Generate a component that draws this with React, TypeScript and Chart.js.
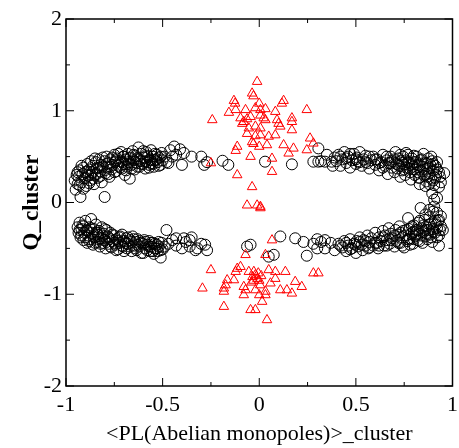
import React, { useEffect, useRef } from "react";
import { Chart, registerables } from "chart.js";

Chart.register(...registerables);

// Axis ticks
const xTicks = [-1, -0.5, 0, 0.5, 1];
const yTicks = [-2, -1, 0, 1, 2];
const xMinorTicks = [-0.75, -0.25, 0.25, 0.75];
const yMinorTicks = [-1.5, -0.5, 0.5, 1.5];

const xTitle = "<PL(Abelian monopoles)>_cluster";
const yTitle = "Q_cluster";

// Red triangles (x, y)
const triUpper: number[][] = [
  [-0.011, 1.317], [-0.037, 1.19], [-0.03, 1.16], [-0.131, 1.11], [-0.125, 1.08], [0.126, 1.11], [0.117, 1.08],
  [0, 1.08], [-0.157, 0.98], [-0.122, 1.01], [-0.071, 1.01], [-0.02, 1.03], [0.006, 1.01], [0.032, 1.02],
  [0.083, 0.99], [0.246, 1.01], [-0.243, 0.9], [-0.097, 0.92], [-0.08, 0.88], [-0.063, 0.91], [-0.088, 0.86],
  [-0.045, 0.935], [0.006, 0.95], [0.023, 0.92], [0.032, 0.9], [0.092, 0.9], [0.1, 0.86], [0.169, 0.92],
  [0.169, 0.88], [-0.054, 0.81], [-0.02, 0.83], [0.006, 0.81], [-0.063, 0.75], [-0.02, 0.725], [0.006, 0.735],
  [0.049, 0.72], [0.083, 0.735], [0.109, 0.83], [0.169, 0.79], [-0.037, 0.66], [-0.03, 0.64], [0, 0.61],
  [0.04, 0.627], [-0.114, 0.61], [-0.122, 0.565], [0.126, 0.627], [0.152, 0.536], [0.177, 0.59], [0.263, 0.7],
  [0.28, 0.645], [0.246, 0.572], [-0.045, 0.5], [0.066, 0.48], [0.066, 0.336], [-0.25, 0.43], [-0.114, 0.3],
  [-0.037, 0.17], [-0.063, -0.03], [-0.011, -0.03], [0.006, -0.045], [0.006, -0.06],
];
const triLower: number[][] = [
  [0.066, -0.41], [-0.071, -0.57], [0.032, -0.57], [-0.25, -0.735], [-0.114, -0.72], [-0.097, -0.7],
  [-0.122, -0.754], [-0.054, -0.754], [-0.028, -0.754], [-0.02, -0.79], [-0.035, -0.81], [-0.01, -0.83],
  [0, -0.85], [-0.03, -0.85], [-0.005, -0.77], [0.01, -0.8], [-0.04, -0.87], [0.005, -0.9], [0.049, -0.735],
  [0.083, -0.754], [0.135, -0.754], [0.28, -0.77], [0.306, -0.77], [-0.166, -0.845], [-0.131, -0.845],
  [-0.174, -0.9], [-0.183, -0.935], [-0.183, -0.97], [-0.294, -0.935], [-0.08, -0.918], [-0.071, -0.954],
  [-0.02, -0.954], [0.032, -0.97], [0.058, -0.88], [0.083, -0.83], [0.186, -0.863], [0.22, -0.918],
  [0.109, -0.954], [0.143, -0.954], [0.169, -0.99], [-0.08, -1.008], [0, -1.008], [0.032, -1.008],
  [0.015, -1.08], [-0.183, -1.135], [-0.045, -1.17], [-0.02, -1.17], [0.04, -1.28],
];

// Black circles (x, y)
const circUpperLeft: number[][] = [
  [-0.955, 0.24], [-0.95, 0.14], [-0.945, 0.3], [-0.94, 0.2], [-0.935, 0.28], [-0.93, 0.35], [-0.925, 0.06],
  [-0.92, 0.22], [-0.915, 0.31], [-0.91, 0.38], [-0.905, 0.26], [-0.9, 0.33], [-0.895, 0.18], [-0.89, 0.42],
  [-0.885, 0.29], [-0.88, 0.36], [-0.875, 0.24], [-0.87, 0.45], [-0.865, 0.33], [-0.86, 0.4], [-0.855, 0.2],
  [-0.85, 0.3], [-0.845, 0.44], [-0.84, 0.37], [-0.835, 0.27], [-0.83, 0.47], [-0.825, 0.34], [-0.82, 0.41],
  [-0.815, 0.22], [-0.81, 0.39], [-0.8, 0.06], [-0.8, 0.45], [-0.795, 0.32], [-0.79, 0.5], [-0.785, 0.38],
  [-0.78, 0.43], [-0.775, 0.28], [-0.77, 0.47], [-0.765, 0.36], [-0.76, 0.41], [-0.75, 0.52], [-0.745, 0.44],
  [-0.74, 0.34], [-0.735, 0.48], [-0.73, 0.4], [-0.72, 0.45], [-0.715, 0.55], [-0.71, 0.37], [-0.705, 0.5],
  [-0.7, 0.42], [-0.695, 0.3], [-0.69, 0.47], [-0.685, 0.39], [-0.68, 0.53], [-0.675, 0.44], [-0.67, 0.26],
  [-0.665, 0.49], [-0.66, 0.41], [-0.655, 0.56], [-0.65, 0.46], [-0.645, 0.36], [-0.64, 0.51], [-0.635, 0.43],
  [-0.63, 0.48], [-0.625, 0.6], [-0.62, 0.39], [-0.615, 0.45], [-0.61, 0.53], [-0.6, 0.42], [-0.595, 0.49],
  [-0.59, 0.37], [-0.585, 0.55], [-0.58, 0.44], [-0.575, 0.5], [-0.57, 0.41], [-0.565, 0.47], [-0.56, 0.57],
  [-0.555, 0.43], [-0.55, 0.5], [-0.545, 0.39], [-0.54, 0.46], [-0.53, 0.52], [-0.525, 0.44], [-0.52, 0.49],
  [-0.51, 0.41], [-0.505, 0.54], [-0.5, 0.46], [-0.49, 0.5], [-0.47, 0.43], [-0.46, 0.57], [-0.44, 0.61],
  [-0.43, 0.52], [-0.41, 0.58], [-0.4, 0.41], [-0.39, 0.54], [-0.35, 0.5], [-0.3, 0.5], [-0.285, 0.41],
  [-0.27, 0.44], [-0.19, 0.455], [-0.16, 0.41],
  [-0.94, 0.33], [-0.93, 0.19], [-0.92, 0.4], [-0.91, 0.15], [-0.9, 0.27], [-0.89, 0.34], [-0.88, 0.21],
  [-0.87, 0.3], [-0.86, 0.26], [-0.85, 0.48], [-0.84, 0.31], [-0.83, 0.38], [-0.82, 0.29], [-0.81, 0.49],
  [-0.8, 0.35], [-0.79, 0.42], [-0.78, 0.31], [-0.77, 0.39], [-0.76, 0.49], [-0.75, 0.33], [-0.74, 0.46],
  [-0.73, 0.53], [-0.72, 0.38], [-0.71, 0.44], [-0.7, 0.5], [-0.69, 0.35], [-0.68, 0.42], [-0.67, 0.48],
  [-0.66, 0.37], [-0.65, 0.52], [-0.64, 0.44], [-0.63, 0.39], [-0.62, 0.47], [-0.61, 0.42], [-0.6, 0.56],
  [-0.59, 0.45], [-0.58, 0.51], [-0.57, 0.38], [-0.56, 0.46], [-0.55, 0.42], [-0.54, 0.53], [-0.53, 0.47],
  [-0.52, 0.4], [-0.51, 0.5], [-0.48, 0.44], [-0.45, 0.5],
];
const circLowerLeft: number[][] = [
  [-0.94, -0.27], [-0.935, -0.33], [-0.93, -0.22], [-0.925, -0.38], [-0.92, -0.29], [-0.915, -0.25],
  [-0.91, -0.41], [-0.905, -0.33], [-0.9, -0.2], [-0.895, -0.3], [-0.89, -0.44], [-0.885, -0.36],
  [-0.88, -0.27], [-0.875, -0.4], [-0.87, -0.18], [-0.865, -0.33], [-0.86, -0.46], [-0.855, -0.29],
  [-0.85, -0.38], [-0.845, -0.24], [-0.84, -0.43], [-0.835, -0.35], [-0.83, -0.31], [-0.825, -0.48],
  [-0.82, -0.39], [-0.815, -0.27], [-0.81, -0.44], [-0.805, -0.34], [-0.8, -0.41], [-0.795, -0.5],
  [-0.79, -0.3], [-0.785, -0.37], [-0.78, -0.45], [-0.775, -0.4], [-0.77, -0.33], [-0.765, -0.49],
  [-0.76, -0.42], [-0.75, -0.36], [-0.745, -0.46], [-0.74, -0.4], [-0.73, -0.51], [-0.725, -0.38],
  [-0.72, -0.44], [-0.71, -0.35], [-0.705, -0.48], [-0.7, -0.42], [-0.69, -0.39], [-0.685, -0.5],
  [-0.68, -0.45], [-0.67, -0.41], [-0.66, -0.53], [-0.655, -0.37], [-0.65, -0.47], [-0.64, -0.43],
  [-0.635, -0.52], [-0.63, -0.4], [-0.62, -0.48], [-0.61, -0.44], [-0.6, -0.55], [-0.595, -0.41],
  [-0.59, -0.5], [-0.58, -0.46], [-0.57, -0.42], [-0.565, -0.53], [-0.56, -0.48], [-0.55, -0.44],
  [-0.545, -0.56], [-0.54, -0.5], [-0.53, -0.46], [-0.525, -0.53], [-0.52, -0.48], [-0.51, -0.6],
  [-0.505, -0.44], [-0.5, -0.51], [-0.48, -0.3], [-0.47, -0.45], [-0.45, -0.41], [-0.43, -0.39],
  [-0.43, -0.47], [-0.39, -0.39], [-0.36, -0.41], [-0.35, -0.38], [-0.4, -0.5], [-0.38, -0.43],
  [-0.36, -0.48], [-0.33, -0.52], [-0.32, -0.5], [-0.3, -0.45], [-0.28, -0.46], [-0.27, -0.52],
  [-0.063, -0.48], [-0.045, -0.46],
  [-0.93, -0.3], [-0.92, -0.36], [-0.91, -0.26], [-0.9, -0.38], [-0.89, -0.31], [-0.88, -0.42], [-0.87, -0.28],
  [-0.86, -0.37], [-0.85, -0.44], [-0.84, -0.33], [-0.83, -0.4], [-0.82, -0.45], [-0.81, -0.36], [-0.8, -0.29],
  [-0.79, -0.43], [-0.78, -0.38], [-0.77, -0.48], [-0.76, -0.35], [-0.75, -0.44], [-0.74, -0.52], [-0.73, -0.42],
  [-0.72, -0.37], [-0.71, -0.47], [-0.7, -0.53], [-0.69, -0.44], [-0.68, -0.38], [-0.67, -0.48], [-0.66, -0.43],
  [-0.65, -0.4], [-0.64, -0.5], [-0.63, -0.46], [-0.62, -0.42], [-0.61, -0.55], [-0.6, -0.45], [-0.59, -0.43],
  [-0.58, -0.52], [-0.57, -0.48], [-0.56, -0.44], [-0.55, -0.53], [-0.54, -0.45], [-0.53, -0.5], [-0.52, -0.43],
  [-0.51, -0.52], [-0.49, -0.48],
];
const circUpperRight: number[][] = [
  [0.03, 0.445], [0.169, 0.416], [0.28, 0.445], [0.306, 0.445], [0.306, 0.59], [0.32, 0.45], [0.34, 0.445],
  [0.35, 0.52], [0.375, 0.445], [0.38, 0.4], [0.39, 0.49],
  [0.4, 0.45], [0.41, 0.52], [0.42, 0.4], [0.43, 0.47], [0.44, 0.55], [0.45, 0.43], [0.46, 0.5], [0.47, 0.38],
  [0.48, 0.46], [0.49, 0.53], [0.5, 0.42], [0.505, 0.49], [0.51, 0.45], [0.52, 0.55], [0.53, 0.4], [0.54, 0.47],
  [0.55, 0.51], [0.56, 0.43], [0.57, 0.37], [0.58, 0.46], [0.59, 0.5], [0.6, 0.41], [0.61, 0.47], [0.62, 0.35],
  [0.63, 0.44], [0.64, 0.52], [0.65, 0.4], [0.66, 0.46], [0.665, 0.31], [0.67, 0.43], [0.68, 0.5], [0.685, 0.38],
  [0.69, 0.45], [0.7, 0.33], [0.705, 0.55], [0.71, 0.42], [0.715, 0.37], [0.72, 0.48], [0.725, 0.4], [0.73, 0.28],
  [0.735, 0.45], [0.74, 0.35], [0.745, 0.5], [0.75, 0.41], [0.755, 0.3], [0.76, 0.46], [0.765, 0.38], [0.77, 0.52],
  [0.775, 0.43], [0.78, 0.33], [0.785, 0.25], [0.79, 0.48], [0.795, 0.39], [0.8, 0.44], [0.805, 0.3], [0.81, 0.36],
  [0.815, 0.5], [0.82, 0.41], [0.825, 0.27], [0.83, 0.2], [0.835, 0.46], [0.84, 0.34], [0.845, 0.39], [0.85, 0.53],
  [0.855, 0.29], [0.86, 0.43], [0.865, 0.23], [0.87, 0.37], [0.875, 0.48], [0.88, 0.32], [0.885, 0.41],
  [0.89, 0.26], [0.895, 0.45], [0.9, 0.35], [0.905, 0.19], [0.91, 0.4], [0.915, 0.3], [0.92, 0.36], [0.93, 0.17],
  [0.935, 0.28], [0.957, 0.32], [0.92, 0.05], [0.905, 0.03], [0.895, 0.1],
  [0.42, 0.5], [0.45, 0.48], [0.47, 0.53], [0.5, 0.47], [0.52, 0.44], [0.55, 0.44], [0.57, 0.5], [0.6, 0.47],
  [0.62, 0.43], [0.64, 0.38], [0.66, 0.5], [0.68, 0.43], [0.7, 0.47], [0.72, 0.41], [0.73, 0.52], [0.74, 0.43],
  [0.75, 0.36], [0.76, 0.54], [0.77, 0.44], [0.78, 0.37], [0.79, 0.42], [0.8, 0.51], [0.81, 0.44], [0.82, 0.33],
  [0.83, 0.4], [0.84, 0.47], [0.85, 0.36], [0.86, 0.31], [0.87, 0.43], [0.88, 0.38], [0.89, 0.5], [0.9, 0.42],
  [0.91, 0.27], [0.92, 0.44], [0.93, 0.33], [0.94, 0.22], [0.86, 0.18], [0.88, 0.2], [0.9, 0.24], [0.83, 0.27],
  [0.8, 0.36], [0.87, 0.28],
];
const circLowerRight: number[][] = [
  [0.049, -0.59], [0.075, -0.57], [0.109, -0.37], [0.186, -0.39], [0.229, -0.43], [0.246, -0.58], [0.28, -0.45],
  [0.3, -0.4], [0.3, -0.5], [0.32, -0.43],
  [0.34, -0.41], [0.34, -0.5], [0.37, -0.44], [0.39, -0.52], [0.41, -0.45], [0.43, -0.49], [0.44, -0.42],
  [0.45, -0.53], [0.46, -0.47], [0.47, -0.4], [0.48, -0.5], [0.49, -0.45], [0.5, -0.55], [0.505, -0.42],
  [0.51, -0.48], [0.52, -0.38], [0.53, -0.46], [0.535, -0.52], [0.54, -0.41], [0.55, -0.47], [0.56, -0.36],
  [0.565, -0.5], [0.57, -0.43], [0.58, -0.39], [0.59, -0.47], [0.6, -0.33], [0.61, -0.44], [0.615, -0.5],
  [0.62, -0.38], [0.63, -0.42], [0.64, -0.31], [0.645, -0.47], [0.65, -0.36], [0.66, -0.41], [0.67, -0.28],
  [0.675, -0.45], [0.68, -0.34], [0.69, -0.39], [0.7, -0.48], [0.705, -0.3], [0.71, -0.42], [0.72, -0.35],
  [0.725, -0.26], [0.73, -0.44], [0.74, -0.38], [0.745, -0.31], [0.75, -0.49], [0.76, -0.36], [0.765, -0.42],
  [0.77, -0.17], [0.775, -0.29], [0.78, -0.39], [0.79, -0.33], [0.795, -0.45], [0.8, -0.25], [0.805, -0.37],
  [0.81, -0.3], [0.82, -0.41], [0.825, -0.22], [0.83, -0.34], [0.835, -0.06], [0.84, -0.28], [0.845, -0.44],
  [0.85, -0.32], [0.855, -0.19], [0.86, -0.37], [0.865, -0.26], [0.87, -0.4], [0.875, -0.3], [0.88, -0.08],
  [0.885, -0.35], [0.89, -0.23], [0.895, -0.43], [0.9, -0.29], [0.905, -0.045], [0.91, -0.33], [0.915, -0.24],
  [0.92, -0.38], [0.925, -0.2], [0.93, -0.19], [0.935, -0.3], [0.93, -0.47], [0.94, -0.26],
  [0.42, -0.47], [0.45, -0.44], [0.47, -0.51], [0.5, -0.46], [0.52, -0.43], [0.55, -0.42], [0.57, -0.49],
  [0.6, -0.44], [0.62, -0.47], [0.64, -0.38], [0.66, -0.47], [0.68, -0.41], [0.7, -0.36], [0.72, -0.44],
  [0.73, -0.33], [0.74, -0.47], [0.76, -0.3], [0.77, -0.4], [0.78, -0.46], [0.79, -0.26], [0.8, -0.4],
  [0.81, -0.35], [0.82, -0.3], [0.83, -0.42], [0.84, -0.36], [0.85, -0.25], [0.86, -0.3], [0.87, -0.34],
  [0.88, -0.24], [0.89, -0.38], [0.9, -0.32], [0.91, -0.2], [0.92, -0.28], [0.93, -0.36], [0.94, -0.15],
  [0.88, -0.16], [0.86, -0.13], [0.9, -0.1], [0.92, -0.11], [0.83, -0.2], [0.8, -0.32], [0.95, -0.3],
];

const FONT = "'Liberation Serif', 'Times New Roman', Times, serif";

const toPts = (arr: number[][]) => arr.map(([x, y]) => ({ x, y }));

const framePlugin = {
  id: "frameTicks",
  afterDatasetsDraw(chart: any) {
    const { ctx, chartArea, scales } = chart;
    const { left, right, top, bottom } = chartArea;
    const xs = scales.x;
    const ys = scales.y;
    ctx.save();
    ctx.strokeStyle = "#000";
    ctx.lineWidth = 1.5;
    ctx.strokeRect(left, top, right - left, bottom - top);
    ctx.lineWidth = 1;
    const major = 8;
    const minor = 4;
    ctx.beginPath();
    const vx = (v: number, len: number) => {
      const p = xs.getPixelForValue(v);
      ctx.moveTo(p, bottom);
      ctx.lineTo(p, bottom - len);
      ctx.moveTo(p, top);
      ctx.lineTo(p, top + len);
    };
    const vy = (v: number, len: number) => {
      const p = ys.getPixelForValue(v);
      ctx.moveTo(left, p);
      ctx.lineTo(left + len, p);
      ctx.moveTo(right, p);
      ctx.lineTo(right - len, p);
    };
    xTicks.forEach((v) => vx(v, major));
    xMinorTicks.forEach((v) => vx(v, minor));
    yTicks.forEach((v) => vy(v, major));
    yMinorTicks.forEach((v) => vy(v, minor));
    ctx.stroke();
    ctx.restore();
  },
};

export default function App() {
  const ref = useRef<HTMLCanvasElement | null>(null);
  useEffect(() => {
    document.body.style.margin = "0";
    const canvas = ref.current;
    if (!canvas) return;
    const chart = new Chart(canvas, {
      type: "scatter",
      data: {
        datasets: [
          {
            label: "triangles",
            data: toPts([...triUpper, ...triLower]),
            pointStyle: "triangle",
            pointRadius: 5.5,
            borderColor: "#ff0000",
            backgroundColor: "rgba(0,0,0,0)",
            borderWidth: 1,
          },
          {
            label: "circles",
            data: toPts([...circUpperLeft, ...circLowerLeft, ...circUpperRight, ...circLowerRight]),
            pointStyle: "circle",
            pointRadius: 5.5,
            borderColor: "#000000",
            backgroundColor: "rgba(0,0,0,0)",
            borderWidth: 1,
          },
        ],
      },
      options: {
        animation: false,
        responsive: false,
        devicePixelRatio: 1,
        layout: { padding: { top: 19, right: 4, left: 0, bottom: 0 } },
        plugins: { legend: { display: false }, tooltip: { enabled: false } },
        events: [],
        scales: {
          x: {
            type: "linear",
            position: "bottom",
            min: -1,
            max: 1,
            grid: { display: false, drawTicks: false },
            border: { display: false },
            afterBuildTicks: (s: any) => {
              s.ticks = xTicks.map((v) => ({ value: v }));
            },
            afterFit: (s: any) => {
              s.height = 62;
              s.paddingLeft = 0;
              s.paddingRight = 0;
            },
            ticks: {
              padding: 6,
              color: "#000",
              font: { family: FONT, size: 22 },
              maxRotation: 0,
              autoSkip: false,
              callback: (v: any) => String(v),
            },
            title: {
              display: true,
              text: xTitle,
              color: "#000",
              font: { family: FONT, size: 22 },
              padding: { top: 0, bottom: 1 },
            },
          },
          y: {
            type: "linear",
            position: "left",
            min: -2,
            max: 2,
            grid: { display: false, drawTicks: false },
            border: { display: false },
            afterBuildTicks: (s: any) => {
              s.ticks = yTicks.map((v) => ({ value: v }));
            },
            afterFit: (s: any) => {
              s.width = 66;
              s.paddingTop = 0;
              s.paddingBottom = 0;
            },
            ticks: {
              padding: 4,
              color: "#000",
              font: { family: FONT, size: 22 },
              autoSkip: false,
              callback: (v: any) => String(v),
            },
            title: {
              display: true,
              text: yTitle,
              color: "#000",
              font: { family: FONT, size: 23, weight: "bold" },
              padding: { top: 18, bottom: 0 },
            },
          },
        },
      },
      plugins: [framePlugin],
    });
    return () => chart.destroy();
  }, []);
  return (
    <div style={{ width: 459, height: 448 }}>
      <canvas ref={ref} width={459} height={448} style={{ display: "block" }} />
    </div>
  );
}
